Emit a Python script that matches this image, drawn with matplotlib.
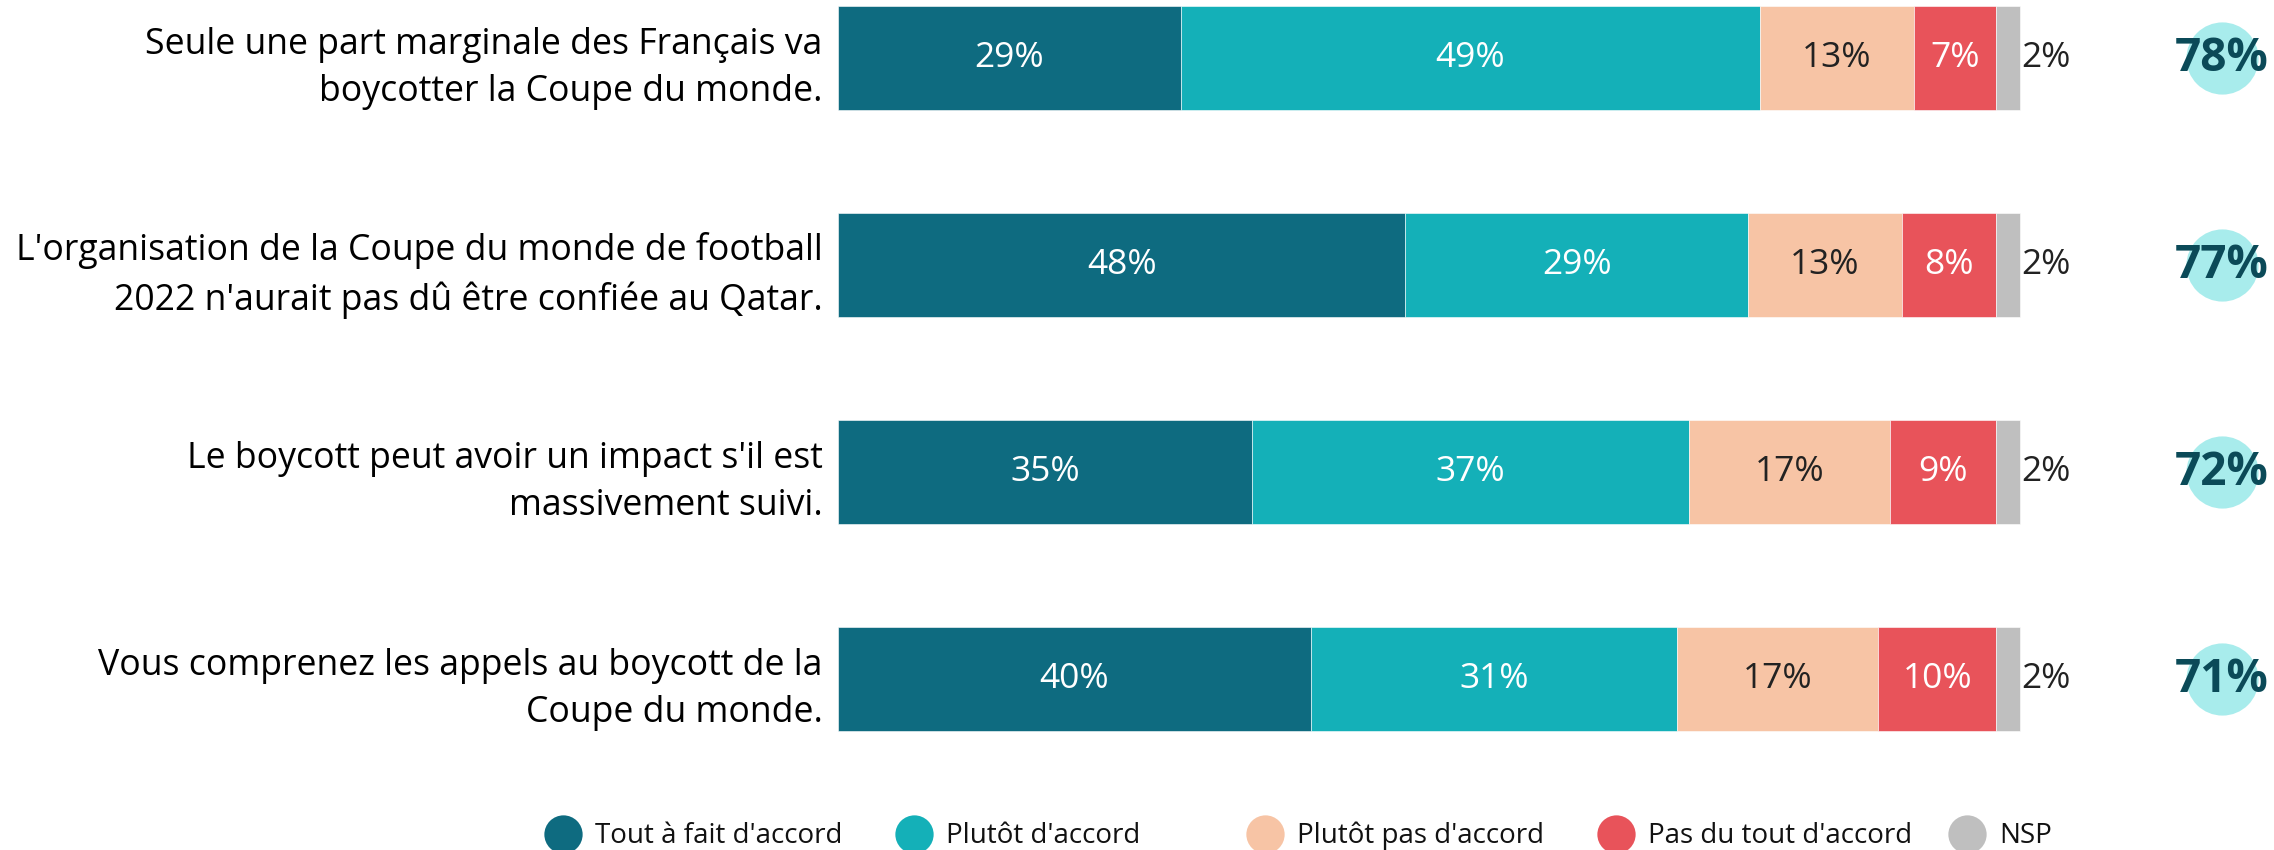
import matplotlib.pyplot as plt
import numpy as np

plt.rcParams['font.family'] = ['Open Sans', 'DejaVu Sans']

# Data
statements = [
    "Seule une part marginale des Français va\nboycotter la Coupe du monde.",
    "L'organisation de la Coupe du monde de football\n2022 n'aurait pas dû être confiée au Qatar.",
    "Le boycott peut avoir un impact s'il est\nmassivement suivi.",
    "Vous comprenez les appels au boycott de la\nCoupe du monde.",
]
answers = ["Tout à fait d'accord", "Plutôt d'accord", "Plutôt pas d'accord",
           "Pas du tout d'accord", "NSP"]
tout_fait = [29, 48, 35, 40]
plutot = [49, 29, 37, 31]
plutot_pas = [13, 13, 17, 17]
pas_du_tout = [7, 8, 9, 10]
nsp = [2, 2, 2, 2]

series = [tout_fait, plutot, plutot_pas, pas_du_tout, nsp]
colors = ['#0e6b80', '#14b0b8', '#f7c4a5', '#e8535a', '#bfbfbf']
txt_colors = ['white', 'white', '#222222', 'white', '#222222']

W, H = 2274, 850
fig = plt.figure(figsize=(W / 100, H / 100), dpi=100)

# main axes: from bar start to right edge, full height
x0 = 838
px_per = 11.82
ax = fig.add_axes([x0 / W, 0, 1 - x0 / W, 1])
ax.set_xlim(0, (W - x0) / px_per)
row_px = 207
top_px = 58
ax.set_ylim((H - top_px) / row_px, -top_px / row_px)

y = np.arange(len(statements))
left = np.zeros(len(statements))
for vals, col, tc in zip(series, colors, txt_colors):
    vals = np.array(vals)
    bars = ax.barh(y, vals, left=left, height=0.5, color=col,
                   edgecolor='white', linewidth=0.4)
    for b, v in zip(bars, vals):
        yc = b.get_y() + b.get_height() / 2
        if col == '#bfbfbf':
            ax.text(b.get_x() + b.get_width() + 0.1, yc, f"{v}%",
                    ha='left', va='center', fontsize=25.5, color=tc)
        else:
            ax.text(b.get_x() + b.get_width() / 2, yc, f"{v}%",
                    ha='center', va='center', fontsize=25.5, color=tc)
    left += vals

# total agree on the right
total = np.array(tout_fait) + np.array(plutot)
cx_tot = (2222 - x0) / px_per
ax.scatter([cx_tot] * len(y), y, s=2700, color='#a8ecec', zorder=2,
           linewidths=0, clip_on=False)
for yi, t in zip(y, total):
    ax.text(cx_tot, yi, f"{t}%", ha='center', va='center', fontsize=33,
            fontweight='bold', color='#0b4a58', zorder=3)

ax.set_yticks(y)
ax.set_yticklabels(statements, fontsize=25.7, ha='right')
for t in ax.get_yticklabels():
    t.set_linespacing(1.42)
ax.tick_params(axis='y', length=0, pad=11)
ax.set_xticks([])
for s in ax.spines.values():
    s.set_visible(False)

# legend at the bottom
leg = fig.add_axes([0, 0, 1, 0.06])
leg.set_xlim(0, W)
leg.set_ylim(0, 0.06 * H)
leg.axis('off')
for i, (name, col) in enumerate(zip(answers, colors)):
    mx = 563 + i * 351
    leg.scatter([mx], [16], s=760, color=col, linewidths=0, clip_on=False)
    leg.text(mx + 32, 14, name, ha='left', va='center', fontsize=20, color='#111111')

fig.savefig('out.png', dpi=100)
